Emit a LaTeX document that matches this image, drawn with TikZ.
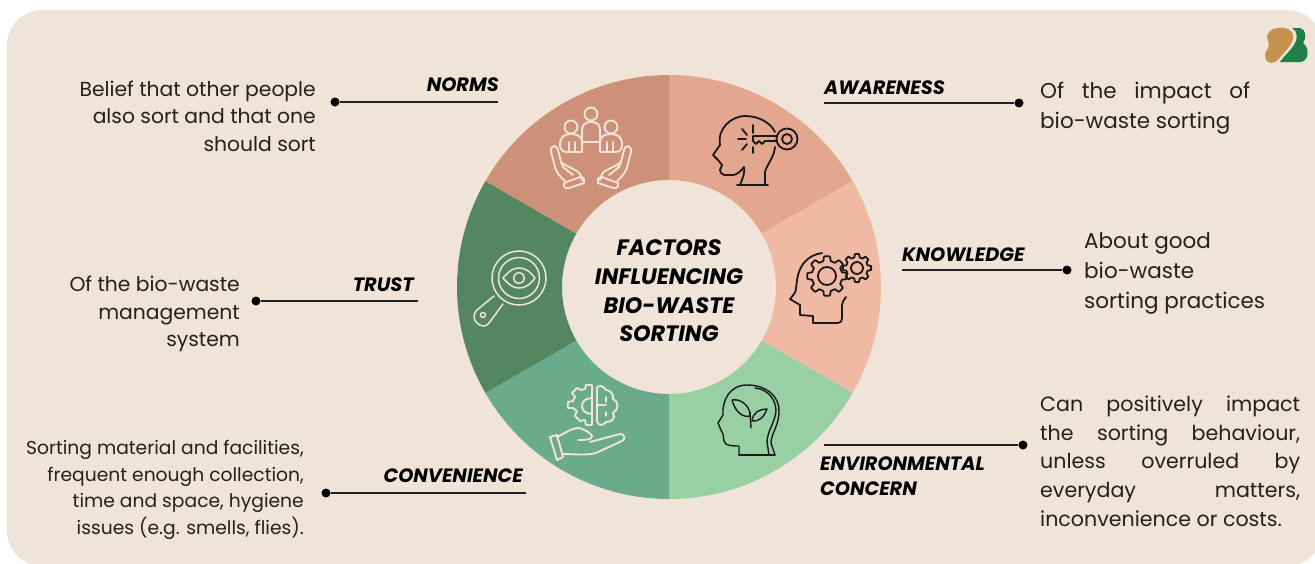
\documentclass[tikz,border=0pt]{standalone}
\usepackage{fontspec}
\setmainfont{Poppins}
\definecolor{bgc}{HTML}{F0E4D8}
\definecolor{normsc}{HTML}{CD9079}
\definecolor{awarec}{HTML}{E3A68F}
\definecolor{knowc}{HTML}{F0B9A3}
\definecolor{envc}{HTML}{98D0A3}
\definecolor{convc}{HTML}{69AB8C}
\definecolor{trustc}{HTML}{548660}
\definecolor{inkc}{HTML}{23201E}
\definecolor{logotan}{HTML}{C6924F}
\definecolor{logogreen}{HTML}{1F7F45}
\newcommand\ringseg[3]{\fill[#3] plot[domain=#1:#2,samples=50] ({669+212*cos(\x)},{287-212*sin(\x)}) -- plot[domain=#2:#1,samples=40] ({669+107*cos(\x)},{287-107*sin(\x)}) -- cycle;}
\tikzset{
  body/.style={font=\fontsize{20.3}{27.5}\selectfont,text=inkc,inner sep=0pt},
  small/.style={font=\fontsize{18.7}{26.5}\selectfont,text=inkc,inner sep=0pt},
  tag/.style={font=\fontsize{19.3}{25}\selectfont\bfseries\itshape,text=black,inner sep=0pt},
  title/.style={font=\fontsize{22.3}{28.7}\selectfont\bfseries\itshape,text=black,inner sep=0pt,align=center},
  dot/.style={circle,fill=black,inner sep=0pt,minimum size=9pt},
  lead/.style={line width=1.3pt,draw=inkc},
  darkicon/.style={draw=black!90,line width=1.8pt,line cap=round,line join=round},
  lighticon/.style={draw=bgc,line width=1.9pt,line cap=round,line join=round},
}
\begin{document}
\begin{tikzpicture}[x=1pt,y=-1pt]
\clip (0,0) rectangle (1315,563);
\fill[white] (0,0) rectangle (1315,563);
\fill[bgc,rounded corners=35pt] (7,10) rectangle (1322,566);
% ring
\ringseg{30}{90}{awarec}
\ringseg{-30}{30}{knowc}
\ringseg{-90}{-30}{envc}
\ringseg{-150}{-90}{convc}
\ringseg{150}{210}{trustc}
\ringseg{90}{150}{normsc}
% logo
\fill[logotan] plot[smooth cycle,tension=0.7] coordinates {(1278,28) (1270,31) (1267,37) (1269,45) (1265,55) (1268,62) (1275,62) (1282,55) (1291,44) (1293,35) (1288,29)};
\fill[logogreen] (1292,28) -- (1300,28) .. controls (1306,29) and (1307,38) .. (1303,43) .. controls (1309,47) and (1310,60) .. (1301,62) -- (1280,62) .. controls (1284,56) and (1291,50) .. (1294,45) .. controls (1298,39) and (1298,31) .. (1292,28) -- cycle;
% centre
\node[title] (centre) at (669,291) {FACTORS\\INFLUENCING\\BIO-WASTE\\SORTING};
% tags
\node[tag,anchor=east] (tnorms) at (499,85) {NORMS};
\node[tag,anchor=west] (taware) at (824,88) {AWARENESS};
\node[tag,anchor=west] (tknow) at (902,255) {KNOWLEDGE};
\node[tag,anchor=east] (ttrust) at (414,285) {TRUST};
\node[tag,anchor=east] (tconv) at (523,476) {CONVENIENCE};
\node[tag,anchor=west,align=left] (tenv) at (820,476) {ENVIRONMENTAL\\CONCERN};
% texts
\node[body,anchor=east,align=right] (xnorms) at (316,116) {Belief that other people\\also sort and that one\\should sort};
\node[body,anchor=east,align=right] (xtrust) at (240,314) {Of the bio-waste\\management\\system};
\node[small,anchor=east,align=right] (xconv) at (304,490) {Sorting material and facilities,\\frequent enough collection,\\time and space, hygiene\\issues (e.g. smells, flies).};
\node[body,anchor=west,align=left,font=\fontsize{21.5}{30}\selectfont] (xaware) at (1040,108) {\makebox[210pt][s]{Of the impact of}\\bio-waste sorting};
\node[body,anchor=west,align=left,font=\fontsize{21.5}{30}\selectfont] (xknow) at (1084,273) {About good\\bio-waste\\sorting practices};
\node[body,anchor=west,align=left,font=\fontsize{20.6}{28.7}\selectfont] (xenv) at (1040,461) {\makebox[260pt][s]{Can positively impact}\\\makebox[260pt][s]{the sorting behaviour,}\\\makebox[260pt][s]{unless overruled by}\\\makebox[260pt][s]{everyday matters,}\\inconvenience or costs.};
% connectors
\node[dot] (dnorms) at (335,102) {};
\coordinate (enorms) at (498,102);
\draw[lead] (dnorms) -- (enorms);
\node[dot] (daware) at (1019,103) {};
\coordinate (eaware) at (824,103);
\draw[lead] (daware) -- (eaware);
\node[dot] (dknow) at (1067,270) {};
\coordinate (eknow) at (902,270);
\draw[lead] (dknow) -- (eknow);
\node[dot] (denv) at (1023,445) {};
\coordinate (eenv) at (824,445);
\draw[lead] (denv) -- (eenv);
\node[dot] (dtrust) at (256,301) {};
\coordinate (etrust) at (418,301);
\draw[lead] (dtrust) -- (etrust);
\node[dot] (dconv) at (326,493) {};
\coordinate (econv) at (526,493);
\draw[lead] (dconv) -- (econv);
% icon: head with key
\begin{scope}[darkicon]
\draw (737,185) -- (768,185);
\draw (740,185) .. controls (743,178) and (745,172) .. (744,167) .. controls (741,171) and (737,175) .. (733,175) -- (724,175) .. controls (721,174) and (720,172) .. (720,170) -- (722,165) -- (718,160) -- (713,155) -- (720,145) .. controls (717,128) and (732,116) .. (745,116) .. controls (758,116) and (770,122) .. (775,132);
\draw (775,147) .. controls (774,158) and (766,166) .. (765,172) -- (765,185);
\draw (753,136) -- (777,136) (753,136) -- (753,141) -- (756,144) -- (759,141) -- (762,144) -- (765,141) -- (777,141);
\draw (787,139) circle[radius=10.5pt];
\draw (787,139) circle[radius=5pt];
\draw (738,139) -- (746,139) (742,129) -- (747,135) (753,125) -- (753,133) (742,150) -- (747,144) (753,147) -- (753,153);
\end{scope}
% icon: head with gears
\begin{scope}[darkicon]
\draw (822,253) .. controls (808,255) and (799,265) .. (797,280) .. controls (796,288) and (796,292) .. (794,294) -- (790,299) -- (800,305) -- (800,315) -- (813,316) -- (813,323) -- (838,323) .. controls (841,323) and (842,321) .. (842,318) -- (842,305) .. controls (842,302) and (844,300) .. (846,297);
\draw plot[domain=0:360,samples=181] ({827+17.5*(1+0.13*max(-1,min(1,2.6*cos(8*\x))))*cos(\x)},{276+17.5*(1+0.13*max(-1,min(1,2.6*cos(8*\x))))*sin(\x)}) -- cycle;
\draw (827,276) circle[radius=9pt];
\draw plot[domain=0:360,samples=181] ({857+12.5*(1+0.13*max(-1,min(1,2.6*cos(8*\x))))*cos(\x)},{268+12.5*(1+0.13*max(-1,min(1,2.6*cos(8*\x))))*sin(\x)}) -- cycle;
\draw (857,268) circle[radius=6pt];
\end{scope}
% icon: head with leaves
\begin{scope}[darkicon,line width=1.4pt]
\draw (739,455) -- (775,455);
\draw (739,455) -- (739,446) .. controls (732,446) and (725,446) .. (724,441) -- (723,434) -- (721,430) -- (718,423) -- (723,415) .. controls (722,400) and (730,385) .. (747,385) .. controls (768,385) and (780,398) .. (779,412) .. controls (779,425) and (771,434) .. (771,443) -- (775,455);
\draw (755,388) .. controls (768,389) and (776,400) .. (776,411) .. controls (775,422) and (767,432) .. (767,442) -- (769,455);
\draw (732,400) .. controls (742,398) and (751,408) .. (750,416) .. controls (742,418) and (735,411) .. (732,400) -- cycle;
\draw (767,409) .. controls (760,409) and (753,412) .. (752,421) .. controls (759,422) and (764,417) .. (767,409) -- cycle;
\draw (750,412) -- (751,428);
\end{scope}
% icon: people in hands
\begin{scope}[lighticon]
\draw (591,114) circle[radius=6.5pt];
\draw (571,127) circle[radius=6.5pt];
\draw (611,127) circle[radius=6.5pt];
\draw (582,142) -- (582,130) .. controls (582,124) and (586,122) .. (591,122) .. controls (596,122) and (600,124) .. (600,130) -- (600,142) -- cycle;
\draw (582,152) -- (567,152) .. controls (562,152) and (560,149) .. (560,145) .. controls (560,137) and (564,134) .. (571,134) .. controls (578,134) and (582,137) .. (582,142) -- cycle;
\draw (600,152) -- (615,152) .. controls (620,152) and (622,149) .. (622,145) .. controls (622,137) and (618,134) .. (611,134) .. controls (604,134) and (600,137) .. (600,142) -- cycle;
\draw (569,142) -- (569,152) (575,142) -- (575,152) (607,142) -- (607,152) (613,142) -- (613,152);
\draw (565,181) .. controls (558,175) and (555,170) .. (554,163) -- (551,152) .. controls (550,145) and (557,144) .. (558,150) -- (561,162) .. controls (566,167) and (575,168) .. (580,174) -- (582,180);
\draw (561,162) -- (563,167) -- (573,175);
\draw (564,183) -- (580,177) .. controls (585,177) and (585,181) .. (584,183) -- (569,188) .. controls (565,189) and (563,186) .. (564,183) -- cycle;
\draw (617,181) .. controls (624,175) and (627,170) .. (628,163) -- (631,152) .. controls (632,145) and (625,144) .. (624,150) -- (621,162) .. controls (616,167) and (607,168) .. (602,174) -- (600,180);
\draw (621,162) -- (619,167) -- (609,175);
\draw (618,183) -- (602,177) .. controls (597,177) and (597,181) .. (598,183) -- (613,188) .. controls (617,189) and (619,186) .. (618,183) -- cycle;
\end{scope}
% icon: magnifier with eye
\begin{scope}[lighticon,line width=1.5pt]
\draw (519,278) circle[radius=27pt];
\draw (519,278) circle[radius=20.5pt];
\draw (503,278) .. controls (510,270) and (514,268) .. (519,268) .. controls (524,268) and (529,270) .. (535,278) .. controls (529,286) and (524,288) .. (519,288) .. controls (514,288) and (510,286) .. (503,278) -- cycle;
\draw (519,278) circle[radius=5.5pt];
\draw (494,296) -- (477,310) .. controls (473,314) and (473,319) .. (477,323) .. controls (481,327) and (486,327) .. (489,323) -- (503,304);
\draw (483,315) circle[radius=2.5pt];
\end{scope}
% icon: brain, gear, hand
\begin{scope}[lighticon]
\draw (592,389) -- (592,425) -- (586,425) -- (585,420) -- (580,421) -- (575,416) -- (577,411) -- (573,408) -- (568,408) -- (568,402) -- (573,401) -- (575,397) -- (572,393) -- (577,388) -- (581,390) -- (585,389) -- (586,385) -- (592,385) -- cycle;
\draw (592,398) .. controls (585,398) and (582,402) .. (582,406) .. controls (582,410) and (585,414) .. (592,414);
\draw (597,388) -- (597,421) .. controls (597,426) and (604,426) .. (606,422) .. controls (612,422) and (616,418) .. (613,413) .. controls (619,410) and (619,401) .. (613,399) .. controls (614,393) and (609,390) .. (606,390) .. controls (604,385) and (597,385) .. (597,388) -- cycle;
\draw (597,405) -- (606,405) (606,397) -- (606,402) (606,412) -- (606,416);
\draw (550,437) -- (557,435) -- (563,457) -- (557,460) -- cycle;
\draw (557,437) .. controls (565,433) and (572,428) .. (578,428) .. controls (583,428) and (592,434) .. (592,436) .. controls (592,440) and (585,440) .. (578,440);
\draw (590,442) -- (620,434) .. controls (625,434) and (626,439) .. (622,441) -- (598,452) .. controls (590,456) and (575,454) .. (563,454);
\end{scope}
\end{tikzpicture}
\end{document}
